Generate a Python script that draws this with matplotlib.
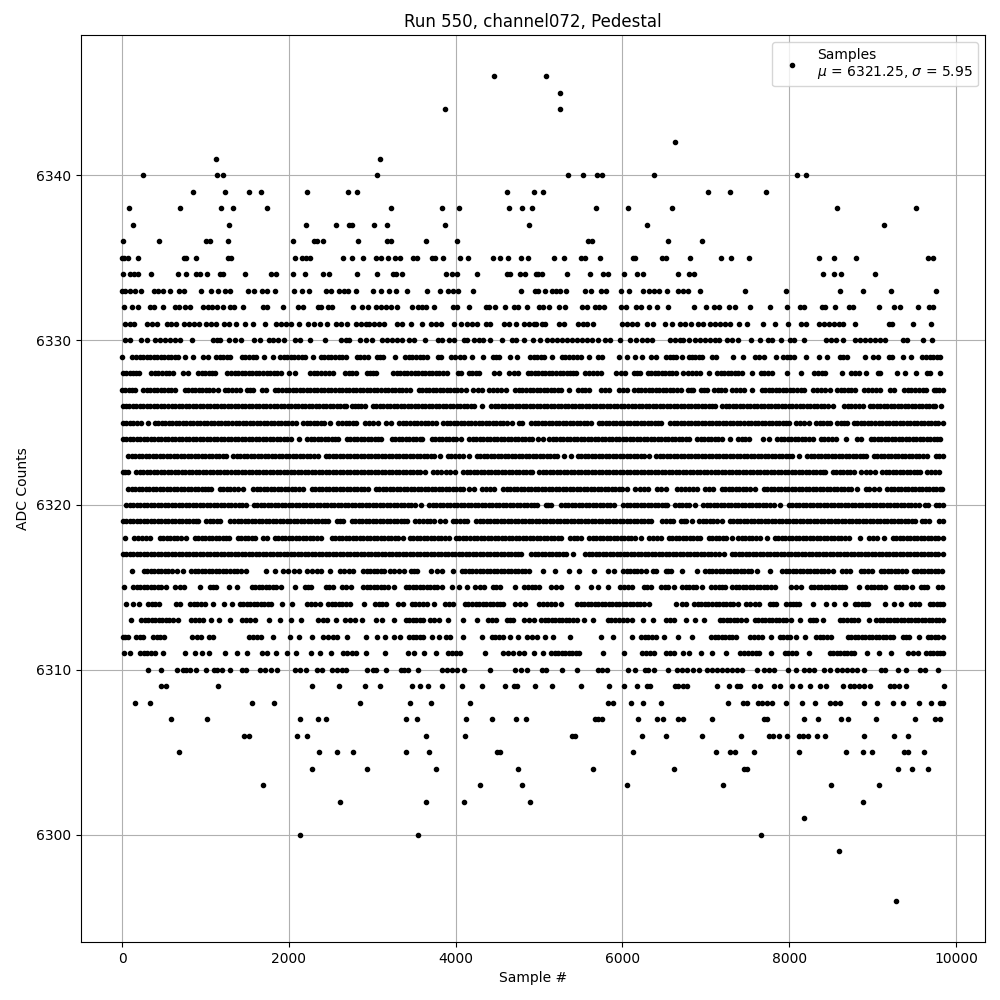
#!/usr/bin/env python3
# Pedestal scatter for run 550, channel 072.
# Sample positions, one list per ADC level.

import numpy as np
import matplotlib
matplotlib.use("Agg")
import matplotlib.pyplot as plt

TITLE = "Run 550, channel072, Pedestal"
MU = 6321.25
SIGMA = 5.95

# sparse levels
x_6346 = [4460, 5088]
x_6345 = [5256]
x_6344 = [3872, 5256]
x_6342 = [6636]
x_6341 = [1124, 3092]
x_6340 = [248, 1136, 1212, 3056, 5352, 5532, 5700, 5760, 6384, 8088, 8196]
x_6339 = [848, 1232, 1520, 1664, 2216, 2708, 2816, 4616, 4936, 5052, 7032, 7284, 7716]
x_6338 = [80, 692, 1184, 1328, 1736, 3224, 3836, 4040, 4640, 4796, 4914, 5688, 6072, 6600, 8568, 9516]
x_6337 = [128, 1280, 2204, 2564, 2720, 2760, 3020, 3176, 3872, 4884, 6300, 9132]
x_6336 = [8, 440, 1004, 1052, 1268, 2048, 2300, 2332, 2408, 2828, 3176, 3228, 3644, 4016,
          5588, 5640, 6552, 6960]
x_6335 = [0, 20, 72, 188, 748, 772, 884, 1268, 1308, 2068, 2156, 2200, 2252, 2648, 2756, 2888,
          3040, 3104, 3188, 3268, 3332, 3484, 3536, 3720, 3748, 3848, 4052, 4148, 4448, 4532,
          4628, 4784, 4868, 5184, 5304, 5504, 5552, 5736, 6128, 6152, 6480, 6528, 6816, 7176,
          7296, 7512, 8352, 8532, 8796, 9660, 9720]
x_6334 = [8, 100, 148, 188, 344, 668, 764, 884, 932, 1020, 1172, 1212, 1472, 1780, 1844, 2048,
          2192, 2408, 2480, 2816, 3056, 3248, 3288, 3356, 3884, 3960, 4016, 4256, 4616, 4652,
          4772, 4832, 4960, 4992, 5032, 5340, 5616, 5772, 5824, 6024, 6180, 6244, 6672, 6804,
          6864, 8400, 8532, 8620, 9024]
x_6333 = [0, 40, 92, 160, 232, 380, 436, 492, 572, 680, 740, 944, 1064, 1148, 1232, 1292, 1508,
          1580, 1672, 1732, 1832, 2060, 2156, 2240, 2448, 2500, 2600, 2660, 2708, 2804, 3008,
          3100, 3200, 3280, 3412, 3656, 3812, 3908, 3968, 4028, 4208, 4784, 4952, 4990, 5076,
          5152, 5204, 5252, 5328, 5556, 5628, 5744, 5804, 5988, 6076, 6252, 6324, 6384, 6444,
          6540, 6672, 6732, 6792, 6936, 7464, 7956, 8604, 8880, 9216, 9756]
x_6332 = [20, 116, 188, 332, 380, 492, 640, 680, 752, 820, 968, 1028, 1076, 1136, 1208, 1292,
          1340, 1448, 1684, 1732, 1928, 2108, 2168, 2348, 2380, 2468, 2520, 2768, 2876, 2948,
          3044, 3100, 3160, 3220, 3300, 3476, 3548, 3600, 3644, 3740, 3968, 4016, 4160, 4364,
          4400, 4472, 4592, 4700, 4748, 4852, 5000, 5052, 5120, 5240, 5308, 5512, 5572, 5672,
          5724, 5784, 5980, 6044, 6164, 6228, 6324, 6412, 6552, 6864, 7008, 7100, 7152, 7272,
          7344, 7524, 7764, 7968, 8124, 8180, 8392, 8432, 8544, 8712, 8760, 9072, 9252, 9324,
          9540, 9680, 9720]
x_6331 = [40, 92, 148, 296, 356, 416, 540, 588, 652, 740, 800, 860, 920, 1008, 1068, 1132, 1220,
          1280, 1360, 1472, 1568, 1712, 1840, 1900, 1960, 2020, 2120, 2232, 2300, 2372, 2456,
          2564, 2620, 2696, 2804, 2860, 2920, 2960, 3020, 3080, 3140, 3300, 3360, 3460, 3592,
          3700, 3760, 3820, 3980, 4064, 4140, 4200, 4252, 4364, 4412, 4580, 4640, 4720, 4820,
          4880, 4940, 4964, 5032, 5072, 5244, 5304, 5472, 5524, 5580, 5644, 6000, 6060, 6112,
          6172, 6300, 6364, 6512, 6592, 6692, 6752, 6820, 6912, 6972, 7052, 7112, 7172, 7232,
          7284, 7392, 7492, 7680, 7824, 7980, 8136, 8204, 8352, 8412, 8472, 8532, 8592, 8640,
          8784, 9192, 9236, 9480, 9696]
x_6330 = [40, 100, 224, 296, 396, 460, 520, 572, 640, 700, 840, 1092, 1140, 1172, 1288, 1348,
          1420, 1580, 1656, 1760, 1812, 1868, 1940, 2068, 2128, 2256, 2432, 2620, 2680, 2720,
          2852, 2920, 3000, 3120, 3180, 3240, 3300, 3360, 3440, 3500, 3628, 3788, 3840, 3920,
          3980, 4100, 4132, 4220, 4284, 4332, 4416, 4552, 4680, 4720, 4824, 4932, 5012, 5092,
          5152, 5212, 5272, 5332, 5392, 5452, 5512, 5572, 5632, 5712, 5792, 5852, 5972, 6092,
          6164, 6232, 6292, 6352, 6572, 6632, 6692, 6732, 6804, 6872, 6932, 6992, 7052, 7104,
          7156, 7252, 7312, 7380, 7536, 7644, 7740, 7792, 7900, 8004, 8052, 8172, 8436, 8500,
          8564, 8640, 8792, 8844, 8912, 8972, 9032, 9092, 9152, 9364, 9412, 9600, 9708]

# dense levels
x_6329 = [0, 124, 166, 210, 250, 294, 336, 378, 420, 462, 504, 546, 588, 630, 668, 752, 856, 972,
          1028, 1132, 1174, 1216, 1258, 1300, 1432, 1476, 1520, 1564, 1608, 1700, 1808, 1892, 1936,
          1978, 2022, 2066, 2108, 2152, 2196, 2288, 2380, 2424, 2466, 2510, 2554, 2598, 2642, 2688,
          2812, 2856, 2902, 2948, 3052, 3090, 3128, 3270, 3396, 3440, 3482, 3526, 3568, 3610, 3652,
          3784, 3828, 3944, 3996, 4048, 4100, 4192, 4332, 4444, 4482, 4520, 4652, 4732, 4892, 4934,
          4976, 5018, 5060, 5160, 5272, 5316, 5360, 5404, 5452, 5500, 5600, 5704, 5752, 5964, 6052,
          6146, 6240, 6344, 6400, 6524, 6566, 6608, 6640, 6720, 6796, 6836, 6876, 6916, 6952, 7076,
          7124, 7324, 7440, 7588, 7640, 7692, 7844, 7928, 7970, 8012, 8052, 8200, 8356, 8452, 8604,
          8648, 8692, 8904, 9008, 9064, 9196, 9232, 9364, 9460, 9596, 9640, 9684, 9726, 9770, 9812]
x_6328 = [5, 48, 90, 132, 170, 208, 352, 394, 436, 480, 522, 566, 608, 728, 788, 912, 954, 996,
          1038, 1078, 1116, 1264, 1306, 1348, 1392, 1434, 1476, 1520, 1562, 1604, 1646, 1690, 1732,
          1774, 1816, 1858, 1900, 2000, 2068, 2252, 2296, 2340, 2384, 2430, 2478, 2528, 2672, 2716,
          2762, 2808, 2932, 2972, 3010, 3048, 3252, 3294, 3336, 3380, 3422, 3464, 3508, 3550, 3592,
          3634, 3678, 3720, 3762, 3806, 3850, 3892, 4024, 4060, 4156, 4198, 4240, 4280, 4464, 4520,
          4644, 4696, 4748, 4864, 4906, 4948, 4990, 5032, 5076, 5118, 5160, 5202, 5246, 5288, 5330,
          5372, 5410, 5440, 5556, 5600, 5642, 5690, 5740, 5928, 5980, 6032, 6136, 6174, 6212, 6304,
          6346, 6388, 6430, 6472, 6514, 6556, 6598, 6640, 6732, 6792, 6836, 6880, 6932, 7044, 7136,
          7178, 7220, 7262, 7304, 7346, 7390, 7432, 7548, 7656, 7700, 7746, 7792, 7974, 8140, 8296,
          8342, 8388, 8432, 8630, 8744, 8788, 8832, 8924, 9068, 9092, 9290, 9392, 9524, 9656, 9692,
          9804]
x_6327 = [0, 40, 78, 118, 156, 252, 294, 336, 378, 420, 464, 506, 548, 592, 636, 752, 794, 836,
          878, 922, 964, 1006, 1048, 1092, 1148, 1232, 1276, 1320, 1364, 1408, 1492, 1530, 1568,
          1672, 1728, 1832, 1874, 1916, 1960, 2002, 2044, 2086, 2128, 2172, 2214, 2256, 2300, 2342,
          2384, 2426, 2468, 2510, 2552, 2596, 2638, 2680, 2722, 2766, 2808, 2850, 2892, 2936, 2978,
          3020, 3062, 3106, 3148, 3190, 3232, 3276, 3318, 3360, 3404, 3452, 3556, 3598, 3640, 3682,
          3726, 3768, 3810, 3852, 3896, 3938, 3980, 4022, 4066, 4120, 4204, 4262, 4320, 4404, 4452,
          4500, 4548, 4600, 4716, 4758, 4800, 4844, 4886, 4928, 4970, 5014, 5056, 5098, 5140, 5184,
          5226, 5260, 5358, 5464, 5510, 5556, 5604, 5744, 5792, 5840, 5956, 6004, 6052, 6144, 6186,
          6228, 6272, 6314, 6356, 6398, 6442, 6484, 6526, 6568, 6612, 6654, 6700, 6788, 6820, 6852,
          6948, 6980, 7012, 7096, 7140, 7186, 7232, 7316, 7360, 7406, 7452, 7556, 7668, 7710, 7752,
          7796, 7838, 7880, 7922, 7966, 8008, 8050, 8092, 8136, 8172, 8284, 8334, 8384, 8434, 8484,
          8576, 8618, 8660, 8702, 8744, 8784, 8896, 8944, 8992, 9040, 9084, 9204, 9252, 9376, 9420,
          9466, 9510, 9556, 9600, 9644, 9736, 9764, 9792, 9848]
x_6326 = [5, 46, 88, 130, 172, 214, 256, 298, 340, 382, 424, 466, 508, 552, 594, 636, 678, 720,
          762, 804, 846, 888, 930, 972, 1014, 1056, 1098, 1140, 1184, 1226, 1268, 1310, 1352, 1394,
          1436, 1478, 1520, 1562, 1604, 1646, 1688, 1730, 1772, 1816, 1858, 1900, 1942, 1984, 2026,
          2068, 2110, 2152, 2194, 2236, 2278, 2320, 2362, 2404, 2448, 2490, 2532, 2574, 2616, 2658,
          2690, 2752, 2792, 2832, 2870, 2908, 3004, 3046, 3088, 3130, 3172, 3214, 3256, 3298, 3340,
          3382, 3424, 3466, 3508, 3550, 3592, 3634, 3678, 3720, 3762, 3804, 3846, 3888, 3930, 3972,
          4014, 4056, 4098, 4140, 4182, 4220, 4316, 4424, 4466, 4508, 4550, 4592, 4634, 4676, 4718,
          4760, 4802, 4846, 4888, 4930, 4972, 5014, 5056, 5098, 5140, 5182, 5224, 5266, 5308, 5350,
          5392, 5434, 5478, 5520, 5562, 5604, 5646, 5688, 5730, 5772, 5814, 5856, 5898, 5940, 5982,
          6024, 6066, 6110, 6152, 6194, 6236, 6278, 6320, 6362, 6404, 6446, 6488, 6530, 6572, 6614,
          6656, 6698, 6742, 6784, 6826, 6868, 6910, 6952, 6994, 7036, 7078, 7112, 7196, 7238, 7280,
          7322, 7364, 7406, 7450, 7492, 7534, 7576, 7618, 7660, 7702, 7744, 7786, 7828, 7870, 7912,
          7954, 7996, 8038, 8082, 8124, 8166, 8208, 8250, 8292, 8334, 8376, 8418, 8460, 8524, 8656,
          8700, 8744, 8790, 8836, 8884, 8968, 9010, 9052, 9094, 9136, 9178, 9220, 9262, 9304, 9346,
          9388, 9430, 9472, 9514, 9556, 9598, 9640, 9682, 9724, 9752, 9824]
x_6325 = [5, 48, 92, 134, 180, 228, 308, 392, 434, 476, 518, 560, 602, 644, 686, 730, 772, 814,
          856, 898, 940, 982, 1024, 1066, 1108, 1150, 1192, 1234, 1276, 1318, 1360, 1404, 1446,
          1488, 1530, 1572, 1614, 1656, 1698, 1740, 1782, 1824, 1866, 1908, 1950, 1992, 2036, 2088,
          2172, 2214, 2256, 2298, 2340, 2382, 2424, 2488, 2592, 2636, 2680, 2724, 2766, 2808, 2912,
          2960, 3012, 3068, 3164, 3228, 3320, 3364, 3408, 3452, 3496, 3540, 3584, 3628, 3672, 3716,
          3760, 3852, 3894, 3936, 3978, 4020, 4064, 4106, 4148, 4190, 4232, 4274, 4316, 4358, 4400,
          4442, 4484, 4528, 4570, 4612, 4680, 4764, 4800, 4904, 4946, 4988, 5030, 5072, 5114, 5156,
          5198, 5240, 5284, 5326, 5368, 5410, 5452, 5494, 5536, 5578, 5620, 5716, 5758, 5800, 5842,
          5884, 5926, 5968, 6010, 6054, 6096, 6138, 6180, 6222, 6264, 6306, 6348, 6390, 6432, 6460,
          6572, 6614, 6656, 6698, 6740, 6784, 6826, 6868, 6910, 6952, 6994, 7036, 7078, 7120, 7162,
          7204, 7246, 7288, 7330, 7372, 7414, 7458, 7500, 7542, 7584, 7626, 7668, 7710, 7752, 7794,
          7836, 7878, 7920, 7962, 8000, 8084, 8130, 8180, 8232, 8324, 8366, 8408, 8450, 8492, 8576,
          8616, 8654, 8692, 8776, 8818, 8860, 8902, 8944, 8986, 9030, 9072, 9114, 9156, 9198, 9240,
          9282, 9324, 9366, 9408, 9450, 9492, 9534, 9576, 9618, 9660, 9702, 9744, 9788, 9850]
x_6324 = [5, 47, 89, 131, 173, 215, 257, 299, 341, 383, 425, 467, 509, 551, 593, 635, 677, 719,
          761, 803, 845, 887, 929, 971, 1013, 1055, 1097, 1139, 1181, 1223, 1265, 1307, 1349, 1391,
          1433, 1475, 1517, 1559, 1601, 1643, 1685, 1727, 1769, 1811, 1853, 1895, 1937, 1979, 2028,
          2120, 2220, 2262, 2304, 2346, 2388, 2430, 2472, 2514, 2556, 2588, 2692, 2734, 2776, 2818,
          2860, 2902, 2944, 2986, 3028, 3070, 3108, 3232, 3274, 3316, 3358, 3400, 3442, 3484, 3526,
          3568, 3600, 3716, 3758, 3800, 3842, 3884, 3926, 3968, 4010, 4060, 4164, 4206, 4248, 4290,
          4332, 4374, 4416, 4458, 4500, 4542, 4584, 4626, 4668, 4710, 4752, 4794, 4836, 4878, 4920,
          4992, 5044, 5124, 5166, 5208, 5250, 5292, 5334, 5376, 5418, 5460, 5502, 5544, 5586, 5628,
          5670, 5712, 5754, 5796, 5838, 5880, 5922, 5964, 6006, 6048, 6090, 6132, 6174, 6216, 6258,
          6300, 6342, 6384, 6426, 6468, 6510, 6552, 6594, 6636, 6678, 6720, 6762, 6804, 6896, 6938,
          6980, 7022, 7064, 7106, 7148, 7192, 7288, 7388, 7430, 7472, 7512, 7688, 7752, 7856, 7898,
          7940, 7982, 8024, 8066, 8108, 8150, 8192, 8234, 8284, 8376, 8420, 8464, 8510, 8564, 8684,
          8816, 8860, 8976, 9018, 9060, 9102, 9144, 9186, 9228, 9270, 9312, 9354, 9396, 9438, 9480,
          9522, 9564, 9606, 9648, 9690, 9732, 9774, 9812]
x_6323 = [72, 114, 156, 198, 240, 282, 324, 366, 408, 450, 492, 534, 576, 618, 660, 702, 744, 786,
          828, 870, 912, 954, 996, 1038, 1080, 1122, 1164, 1206, 1248, 1332, 1374, 1416, 1458,
          1500, 1542, 1584, 1626, 1668, 1710, 1752, 1794, 1836, 1878, 1920, 1962, 2004, 2046, 2088,
          2130, 2172, 2214, 2256, 2298, 2348, 2444, 2486, 2528, 2570, 2612, 2654, 2696, 2738, 2780,
          2822, 2864, 2906, 2948, 2990, 3032, 3074, 3116, 3158, 3200, 3242, 3284, 3326, 3368, 3410,
          3452, 3494, 3536, 3578, 3620, 3662, 3704, 3746, 3812, 3904, 3950, 3996, 4046, 4092, 4164,
          4252, 4294, 4336, 4378, 4420, 4462, 4504, 4546, 4588, 4630, 4672, 4714, 4756, 4798, 4840,
          4882, 4924, 4966, 5008, 5050, 5092, 5134, 5176, 5220, 5304, 5384, 5464, 5506, 5548, 5590,
          5632, 5674, 5716, 5758, 5800, 5842, 5884, 5926, 5968, 6010, 6052, 6094, 6136, 6178, 6220,
          6262, 6320, 6404, 6446, 6488, 6530, 6572, 6614, 6656, 6698, 6740, 6782, 6824, 6866, 6908,
          6950, 6992, 7034, 7076, 7118, 7160, 7202, 7244, 7286, 7328, 7370, 7412, 7454, 7496, 7538,
          7580, 7622, 7664, 7706, 7748, 7790, 7832, 7874, 7916, 7958, 8000, 8032, 8116, 8216, 8258,
          8300, 8342, 8384, 8426, 8468, 8510, 8552, 8594, 8636, 8678, 8720, 8762, 8804, 8846, 8888,
          8924, 9016, 9058, 9100, 9142, 9184, 9226, 9268, 9310, 9352, 9394, 9436, 9478, 9520, 9562,
          9604, 9652, 9756, 9800, 9850]
x_6322 = [5, 36, 68, 172, 214, 256, 298, 340, 382, 424, 466, 508, 550, 592, 634, 676, 718, 760,
          802, 844, 886, 928, 970, 1012, 1054, 1096, 1138, 1180, 1222, 1264, 1306, 1348, 1390,
          1432, 1474, 1516, 1558, 1600, 1642, 1684, 1726, 1768, 1810, 1852, 1894, 1936, 1978, 2020,
          2062, 2104, 2146, 2188, 2230, 2272, 2314, 2356, 2398, 2440, 2482, 2524, 2566, 2608, 2650,
          2692, 2734, 2776, 2818, 2860, 2902, 2944, 2986, 3028, 3070, 3112, 3154, 3196, 3238, 3280,
          3322, 3364, 3406, 3448, 3490, 3532, 3574, 3628, 3732, 3780, 3830, 3880, 3936, 3992, 4092,
          4134, 4176, 4218, 4260, 4302, 4344, 4386, 4428, 4470, 4512, 4554, 4596, 4638, 4680, 4722,
          4764, 4806, 4848, 4890, 4920, 5004, 5046, 5088, 5130, 5172, 5214, 5256, 5298, 5340, 5382,
          5424, 5466, 5508, 5550, 5592, 5634, 5676, 5718, 5760, 5802, 5844, 5886, 5928, 5970, 6012,
          6054, 6096, 6138, 6180, 6222, 6264, 6306, 6348, 6390, 6432, 6474, 6516, 6558, 6600, 6642,
          6684, 6726, 6768, 6810, 6852, 6894, 6936, 6978, 7020, 7062, 7104, 7146, 7188, 7230, 7272,
          7314, 7356, 7398, 7440, 7482, 7524, 7566, 7608, 7650, 7692, 7734, 7776, 7818, 7860, 7902,
          7944, 7986, 8028, 8070, 8112, 8154, 8196, 8238, 8280, 8322, 8364, 8406, 8432, 8524, 8566,
          8608, 8650, 8692, 8734, 8772, 8864, 8916, 8970, 9024, 9116, 9158, 9200, 9242, 9284, 9326,
          9368, 9410, 9452, 9494, 9530, 9564, 9656, 9702, 9748, 9792]
x_6321 = [72, 114, 156, 198, 240, 282, 324, 366, 408, 450, 492, 534, 576, 618, 660, 702, 744, 786,
          828, 870, 912, 954, 996, 1032, 1068, 1172, 1214, 1256, 1298, 1340, 1392, 1448, 1572,
          1614, 1656, 1698, 1740, 1782, 1824, 1866, 1908, 1950, 1992, 2034, 2076, 2118, 2168, 2272,
          2314, 2356, 2398, 2440, 2482, 2524, 2566, 2608, 2650, 2692, 2734, 2776, 2818, 2860, 2902,
          2948, 3044, 3086, 3128, 3170, 3212, 3254, 3296, 3338, 3380, 3422, 3464, 3506, 3548, 3590,
          3632, 3674, 3716, 3758, 3800, 3842, 3884, 3926, 3968, 4010, 4052, 4094, 4160, 4224, 4316,
          4364, 4412, 4460, 4572, 4614, 4656, 4698, 4740, 4782, 4824, 4866, 4908, 4950, 4992, 5034,
          5076, 5118, 5160, 5202, 5244, 5286, 5328, 5370, 5412, 5454, 5496, 5538, 5580, 5622, 5664,
          5706, 5748, 5790, 5832, 5874, 5916, 5958, 6000, 6052, 6156, 6208, 6260, 6312, 6416, 6468,
          6520, 6652, 6700, 6750, 6800, 6846, 6892, 6988, 7040, 7092, 7188, 7230, 7272, 7314, 7356,
          7398, 7440, 7482, 7524, 7592, 7696, 7738, 7780, 7822, 7864, 7906, 7948, 7990, 8032, 8074,
          8116, 8158, 8200, 8242, 8284, 8326, 8368, 8410, 8452, 8494, 8536, 8578, 8620, 8662, 8704,
          8746, 8812, 8916, 8960, 9016, 9072, 9176, 9218, 9260, 9302, 9344, 9386, 9428, 9470, 9512,
          9554, 9596, 9638, 9680, 9722, 9764, 9806, 9832]
x_6320 = [52, 94, 136, 178, 220, 262, 304, 346, 388, 430, 472, 514, 556, 598, 640, 682, 724, 766,
          808, 850, 892, 934, 976, 1018, 1060, 1102, 1144, 1186, 1228, 1270, 1312, 1354, 1396,
          1438, 1488, 1580, 1622, 1664, 1706, 1748, 1790, 1832, 1874, 1916, 1958, 2000, 2042, 2084,
          2126, 2168, 2210, 2252, 2294, 2336, 2378, 2420, 2462, 2504, 2546, 2588, 2630, 2672, 2714,
          2756, 2798, 2840, 2882, 2924, 2966, 3008, 3050, 3092, 3134, 3176, 3218, 3260, 3302, 3344,
          3386, 3428, 3470, 3512, 3580, 3684, 3726, 3768, 3810, 3852, 3894, 3936, 3978, 4020, 4062,
          4104, 4146, 4188, 4230, 4272, 4314, 4356, 4398, 4440, 4482, 4524, 4566, 4608, 4650, 4692,
          4734, 4776, 4818, 4860, 4902, 4944, 4980, 5084, 5112, 5140, 5264, 5306, 5348, 5390, 5432,
          5474, 5516, 5558, 5600, 5642, 5684, 5726, 5768, 5810, 5852, 5900, 6012, 6054, 6096, 6138,
          6180, 6222, 6264, 6306, 6348, 6390, 6432, 6474, 6516, 6540, 6636, 6678, 6720, 6762, 6804,
          6872, 6968, 7010, 7052, 7094, 7136, 7178, 7220, 7262, 7304, 7346, 7388, 7430, 7472, 7514,
          7556, 7598, 7640, 7682, 7724, 7766, 7812, 7884, 7996, 8038, 8080, 8122, 8164, 8206, 8248,
          8290, 8332, 8374, 8416, 8458, 8500, 8542, 8584, 8626, 8668, 8710, 8752, 8794, 8836, 8878,
          8920, 8962, 9004, 9046, 9088, 9130, 9172, 9214, 9256, 9298, 9340, 9382, 9424, 9466, 9508,
          9552, 9624, 9664, 9756, 9800, 9850]
x_6319 = [5, 47, 89, 131, 173, 215, 257, 299, 341, 383, 425, 467, 509, 551, 593, 635, 677, 719,
          761, 803, 845, 887, 908, 1012, 1054, 1096, 1138, 1180, 1300, 1342, 1384, 1426, 1468,
          1510, 1552, 1594, 1636, 1678, 1720, 1762, 1804, 1846, 1888, 1930, 1972, 2014, 2056, 2098,
          2140, 2182, 2224, 2266, 2308, 2350, 2392, 2434, 2468, 2580, 2616, 2648, 2752, 2794, 2836,
          2878, 2920, 2962, 3004, 3046, 3088, 3130, 3172, 3214, 3256, 3298, 3340, 3382, 3420, 3516,
          3560, 3606, 3652, 3696, 3740, 3812, 3872, 3964, 4008, 4052, 4096, 4140, 4244, 4286, 4328,
          4370, 4412, 4454, 4496, 4538, 4580, 4622, 4664, 4706, 4748, 4790, 4832, 4874, 4916, 4958,
          5000, 5042, 5084, 5126, 5168, 5210, 5252, 5294, 5336, 5378, 5420, 5462, 5504, 5546, 5588,
          5630, 5672, 5714, 5756, 5798, 5840, 5882, 5924, 5966, 6008, 6050, 6092, 6134, 6176, 6218,
          6260, 6302, 6340, 6476, 6520, 6566, 6612, 6704, 6734, 6764, 6836, 6924, 6966, 7008, 7050,
          7092, 7134, 7192, 7284, 7326, 7368, 7410, 7452, 7494, 7536, 7578, 7620, 7662, 7704, 7746,
          7788, 7830, 7872, 7914, 7956, 7998, 8040, 8082, 8124, 8166, 8208, 8250, 8292, 8334, 8376,
          8418, 8460, 8502, 8544, 8586, 8628, 8670, 8712, 8754, 8796, 8838, 8880, 8922, 8964, 9006,
          9048, 9090, 9132, 9174, 9216, 9258, 9300, 9342, 9384, 9426, 9468, 9512, 9596, 9634, 9672,
          9796, 9844]
x_6318 = [32, 140, 188, 240, 290, 340, 452, 494, 536, 578, 620, 662, 704, 768, 872, 914, 956, 998,
          1040, 1082, 1124, 1166, 1208, 1250, 1288, 1384, 1426, 1468, 1510, 1552, 1588, 1684, 1740,
          1832, 1874, 1916, 1958, 2000, 2042, 2084, 2126, 2168, 2210, 2252, 2294, 2336, 2388, 2512,
          2554, 2596, 2638, 2680, 2722, 2764, 2806, 2848, 2890, 2932, 2974, 3016, 3058, 3100, 3142,
          3184, 3226, 3268, 3310, 3372, 3452, 3494, 3536, 3578, 3620, 3662, 3704, 3746, 3788, 3830,
          3872, 3920, 4004, 4046, 4088, 4130, 4172, 4214, 4256, 4298, 4340, 4382, 4424, 4466, 4508,
          4550, 4592, 4634, 4676, 4718, 4760, 4802, 4844, 4886, 4928, 4970, 5012, 5054, 5096, 5138,
          5180, 5222, 5268, 5372, 5414, 5456, 5500, 5604, 5646, 5688, 5730, 5772, 5814, 5856, 5898,
          5940, 5982, 6024, 6066, 6108, 6150, 6220, 6324, 6370, 6416, 6460, 6556, 6598, 6640, 6682,
          6724, 6766, 6808, 6850, 6892, 6932, 7036, 7078, 7120, 7162, 7204, 7246, 7312, 7388, 7430,
          7472, 7514, 7556, 7598, 7652, 7732, 7828, 7870, 7912, 7954, 7996, 8038, 8080, 8122, 8164,
          8206, 8248, 8290, 8332, 8374, 8416, 8458, 8500, 8542, 8584, 8626, 8668, 8712, 8844, 8956,
          9004, 9052, 9142, 9244, 9286, 9328, 9370, 9412, 9454, 9496, 9538, 9580, 9622, 9664, 9706,
          9748, 9790, 9844]
x_6317 = [5, 47, 89, 131, 173, 215, 257, 299, 341, 383, 425, 467, 509, 551, 593, 635, 677, 719,
          761, 803, 845, 887, 929, 971, 1013, 1055, 1097, 1139, 1181, 1223, 1265, 1307, 1349, 1391,
          1433, 1475, 1517, 1559, 1601, 1643, 1685, 1727, 1769, 1811, 1853, 1895, 1937, 1979, 2021,
          2063, 2105, 2147, 2189, 2231, 2273, 2315, 2357, 2399, 2441, 2483, 2525, 2567, 2609, 2651,
          2693, 2735, 2777, 2819, 2861, 2903, 2945, 2987, 3029, 3071, 3113, 3155, 3197, 3239, 3281,
          3323, 3365, 3407, 3449, 3491, 3533, 3575, 3617, 3659, 3701, 3743, 3785, 3827, 3869, 3911,
          3953, 3995, 4037, 4079, 4121, 4163, 4205, 4247, 4289, 4331, 4373, 4415, 4457, 4499, 4541,
          4583, 4625, 4667, 4709, 4751, 4780, 4904, 4946, 4988, 5030, 5072, 5114, 5156, 5198, 5240,
          5282, 5320, 5404, 5556, 5598, 5640, 5682, 5724, 5766, 5808, 5850, 5892, 5934, 5976, 6018,
          6060, 6102, 6144, 6186, 6228, 6270, 6312, 6354, 6396, 6438, 6480, 6522, 6564, 6606, 6648,
          6690, 6732, 6774, 6816, 6858, 6900, 6942, 6984, 7026, 7068, 7110, 7152, 7220, 7308, 7350,
          7392, 7434, 7476, 7518, 7560, 7602, 7644, 7686, 7728, 7770, 7812, 7854, 7896, 7938, 7980,
          8022, 8064, 8106, 8148, 8190, 8232, 8274, 8316, 8358, 8400, 8442, 8484, 8526, 8568, 8610,
          8652, 8694, 8736, 8778, 8820, 8862, 8904, 8946, 8988, 9030, 9072, 9114, 9156, 9198, 9240,
          9282, 9324, 9366, 9408, 9450, 9492, 9534, 9576, 9618, 9660, 9702, 9744, 9786, 9844]
x_6316 = [120, 260, 302, 344, 386, 428, 470, 512, 554, 596, 660, 732, 832, 874, 916, 958, 1000,
          1042, 1084, 1126, 1168, 1210, 1252, 1294, 1336, 1378, 1420, 1488, 1720, 1828, 1932, 1994,
          2056, 2120, 2220, 2276, 2332, 2388, 2492, 2612, 2664, 2716, 2768, 2892, 2934, 2976, 3018,
          3060, 3102, 3144, 3208, 3260, 3324, 3380, 3464, 3500, 3540, 3704, 3772, 3840, 3972, 4076,
          4118, 4160, 4202, 4244, 4286, 4328, 4370, 4412, 4454, 4496, 4538, 4580, 4622, 4664, 4706,
          4748, 4790, 4832, 4880, 5044, 5194, 5354, 5476, 5656, 5828, 5904, 6012, 6054, 6096, 6138,
          6180, 6222, 6280, 6364, 6400, 6524, 6552, 6580, 6720, 6892, 6996, 7038, 7080, 7122, 7164,
          7206, 7248, 7290, 7332, 7374, 7416, 7458, 7500, 7542, 7612, 7772, 7916, 7958, 8000, 8042,
          8084, 8126, 8168, 8210, 8252, 8294, 8336, 8378, 8420, 8462, 8524, 8628, 8676, 8724, 8856,
          8900, 8946, 8992, 9096, 9138, 9180, 9222, 9264, 9306, 9348, 9404, 9496, 9538, 9580, 9622,
          9664, 9706, 9748, 9790, 9832]
x_6315 = [20, 132, 174, 216, 258, 300, 342, 384, 426, 468, 528, 632, 690, 748, 940, 1052, 1090,
          1128, 1280, 1372, 1552, 1594, 1636, 1678, 1720, 1762, 1804, 1846, 1900, 2068, 2192, 2230,
          2268, 2444, 2486, 2528, 2632, 2690, 2748, 2892, 2934, 2976, 3018, 3060, 3102, 3144, 3186,
          3260, 3404, 3446, 3488, 3530, 3572, 3614, 3656, 3698, 3740, 3782, 3840, 3952, 4044, 4136,
          4236, 4288, 4340, 4444, 4488, 4532, 4716, 4824, 4868, 4912, 4956, 5000, 5144, 5202, 5260,
          5452, 5622, 5712, 5824, 5976, 6020, 6066, 6112, 6256, 6298, 6340, 6464, 6506, 6548, 6620,
          6716, 6758, 6800, 6842, 6884, 6952, 7068, 7110, 7152, 7194, 7232, 7316, 7358, 7400, 7442,
          7484, 7526, 7568, 7610, 7652, 7694, 7736, 7778, 7832, 8016, 8078, 8140, 8256, 8298, 8340,
          8382, 8424, 8466, 8508, 8550, 8592, 8634, 8672, 8840, 8936, 8978, 9020, 9062, 9104, 9152,
          9276, 9318, 9360, 9402, 9472, 9576, 9614, 9652, 9784, 9832]
x_6314 = [44, 128, 200, 312, 356, 400, 448, 652, 700, 812, 858, 904, 950, 996, 1088, 1224, 1320,
          1412, 1454, 1496, 1538, 1580, 1622, 1664, 1706, 1748, 1788, 1914, 2040, 2212, 2264, 2316,
          2368, 2472, 2514, 2556, 2598, 2640, 2682, 2728, 2900, 3032, 3076, 3120, 3168, 3312, 3368,
          3472, 3518, 3564, 3610, 3660, 3740, 3872, 3920, 3968, 4112, 4154, 4196, 4238, 4280, 4322,
          4364, 4406, 4448, 4490, 4532, 4568, 4712, 4770, 4828, 5004, 5050, 5096, 5142, 5188, 5260,
          5456, 5498, 5540, 5582, 5624, 5666, 5708, 5750, 5792, 5834, 5876, 5918, 5960, 6002, 6044,
          6086, 6128, 6170, 6212, 6254, 6320, 6644, 6712, 6764, 6864, 6906, 6948, 6990, 7032, 7074,
          7116, 7158, 7200, 7242, 7284, 7326, 7380, 7484, 7530, 7584, 7640, 7764, 7802, 7840, 7964,
          8004, 8044, 8084, 8120, 8284, 8444, 8532, 8672, 8784, 8826, 8868, 8948, 8906, 9152, 9252,
          9340, 9464, 9512, 9560, 9684, 9726, 9768, 9810, 9850]
x_6313 = [104, 232, 274, 316, 358, 400, 442, 484, 526, 568, 612, 668, 832, 876, 922, 968, 1064,
          1164, 1298, 1432, 1484, 1536, 1588, 1760, 1888, 2024, 2148, 2352, 2406, 2460, 2560, 2672,
          2730, 2788, 2880, 3040, 3120, 3260, 3404, 3446, 3488, 3530, 3572, 3608, 3692, 3744, 3796,
          3908, 4088, 4256, 4392, 4440, 4488, 4620, 4654, 4688, 4820, 4880, 4940, 5024, 5066, 5108,
          5150, 5192, 5234, 5276, 5318, 5360, 5402, 5460, 5544, 5652, 5824, 5868, 5914, 5960, 6006,
          6052, 6120, 6252, 6368, 6524, 6572, 6620, 6764, 6872, 6982, 7164, 7206, 7248, 7290, 7332,
          7374, 7416, 7480, 7584, 7626, 7668, 7710, 7752, 7794, 7836, 7878, 7920, 7962, 8020, 8124,
          8244, 8282, 8320, 8404, 8604, 8648, 8692, 8736, 8780, 8820, 8952, 9044, 9086, 9128, 9170,
          9212, 9254, 9296, 9338, 9380, 9422, 9464, 9506, 9548, 9590, 9632, 9674, 9716, 9758, 9800,
          9840]
x_6312 = [5, 36, 68, 172, 210, 248, 372, 414, 458, 500, 844, 896, 948, 1040, 1092, 1520, 1568,
          1616, 1668, 1810, 2012, 2120, 2272, 2412, 2468, 2524, 2580, 2692, 2924, 3052, 3152, 3260,
          3332, 3444, 3486, 3528, 3570, 3608, 3720, 3800, 3880, 3932, 4088, 4312, 4432, 4476, 4522,
          4568, 4648, 4748, 4860, 4920, 4980, 5072, 5172, 5376, 5742, 5884, 6112, 6224, 6266, 6308,
          6350, 6400, 6500, 6664, 6840, 7064, 7106, 7148, 7190, 7232, 7274, 7316, 7360, 7524, 7572,
          7620, 7668, 7780, 7884, 7926, 7968, 8010, 8080, 8192, 8324, 8366, 8408, 8450, 8500, 8704,
          8746, 8788, 8830, 8872, 8914, 8956, 8998, 9040, 9082, 9124, 9166, 9208, 9240, 9364, 9402,
          9440, 9552, 9664, 9706, 9748, 9790, 9840]
x_6311 = [28, 92, 212, 258, 304, 350, 396, 492, 750, 872, 960, 1040, 1240, 1372, 1492, 1672, 1740,
          1850, 1980, 2088, 2270, 2372, 2506, 2644, 2698, 2752, 2808, 2924, 3152, 3428, 3500, 3620,
          3770, 3912, 3958, 4004, 4048, 4356, 4564, 4626, 4688, 4760, 4820, 4940, 5044, 5144, 5186,
          5228, 5270, 5312, 5354, 5396, 5438, 5480, 5772, 6018, 6236, 6284, 6332, 6380, 6524, 6572,
          6620, 6724, 6800, 6940, 7072, 7246, 7412, 7458, 7504, 7550, 7596, 7640, 7776, 7944, 7988,
          8034, 8080, 8232, 8484, 8526, 8568, 8610, 8652, 8694, 8736, 8780, 8928, 9082, 9226, 9424,
          9482, 9540, 9644, 9686, 9728, 9770, 9812, 9840]

# lower tail
x_6310 = [308, 464, 656, 732, 772, 812, 888, 1004, 1100, 1140, 1196, 1292, 1436, 1488, 1652,
          1708, 1788, 1860, 2072, 2132, 2204, 2340, 2400, 2520, 2580, 2640, 2688, 2936, 3008,
          3048, 3164, 3344, 3380, 3428, 3548, 3836, 3900, 3960, 4020, 4100, 4412, 4716, 4780,
          4860, 5032, 5084, 5280, 5460, 5712, 5760, 5812, 6072, 6152, 6272, 6312, 6384, 6552,
          6652, 6712, 6772, 6852, 6920, 7012, 7072, 7132, 7192, 7252, 7312, 7372, 7432, 7608,
          7692, 7752, 7812, 7980, 8080, 8172, 8232, 8292, 8412, 8492, 8572, 8632, 8692, 8752,
          8812, 8900, 9100, 9152, 9304, 9400, 9572, 9632, 9780]
x_6309 = [464, 524, 1148, 2276, 2600, 2912, 3092, 3476, 3572, 3668, 3836, 4076, 4316, 4592, 4700,
          4740, 4948, 5160, 5508, 5836, 6024, 6180, 6292, 6332, 6632, 6672, 6732, 6780, 7128,
          7272, 7372, 7412, 7572, 7644, 7812, 7892, 8028, 8124, 8244, 8372, 8444, 8640, 8732,
          8780, 8832, 8892, 8972, 9204, 9252, 9316, 9404, 9855]
x_6308 = [152, 332, 1556, 1820, 2852, 3452, 3704, 4172, 5832, 5884, 6108, 6252, 6468, 7260, 7440,
          7492, 7620, 7672, 7732, 7792, 7956, 8148, 8304, 8492, 8552, 8604, 8892, 9048, 9240,
          9360, 9552, 9696, 9804, 9845]
x_6307 = [584, 1016, 2132, 2348, 2444, 3404, 3536, 4124, 4436, 4724, 4844, 5672, 5712, 5756, 6192,
          6420, 6492, 6672, 6724, 7080, 7700, 7732, 8172, 8340, 8624, 8700, 9036, 9504, 9752,
          9804]
x_6306 = [1460, 1520, 2096, 2216, 3644, 4112, 5400, 5432, 6240, 6528, 6960, 7416, 7752, 7804,
          7872, 7968, 8112, 8164, 8220, 8328, 8428, 8892, 9252, 9420]
x_6305 = [680, 2360, 2576, 2768, 3404, 3680, 4492, 4532, 6132, 7116, 7284, 7344, 7572, 8112,
          8676, 8880, 8988, 9380, 9428, 9612]
x_6304 = [2276, 2936, 3764, 4748, 5652, 6624, 7452, 7492, 9300, 9468, 9660]
x_6303 = [1688, 4292, 4796, 6060, 7200, 8496, 9072]
x_6302 = [2612, 3644, 4100, 4892, 8880]
x_6301 = [8172]
x_6300 = [2132, 3548, 7656]
x_6299 = [8592]
x_6296 = [9276]

levels = [6346, 6345, 6344, 6342, 6341, 6340, 6339, 6338, 6337, 6336, 6335, 6334, 6333, 6332,
          6331, 6330, 6329, 6328, 6327, 6326, 6325, 6324, 6323, 6322, 6321, 6320, 6319, 6318,
          6317, 6316, 6315, 6314, 6313, 6312, 6311, 6310, 6309, 6308, 6307, 6306, 6305, 6304,
          6303, 6302, 6301, 6300, 6299, 6296]
rows = [x_6346, x_6345, x_6344, x_6342, x_6341, x_6340, x_6339, x_6338, x_6337, x_6336, x_6335,
        x_6334, x_6333, x_6332, x_6331, x_6330, x_6329, x_6328, x_6327, x_6326, x_6325, x_6324,
        x_6323, x_6322, x_6321, x_6320, x_6319, x_6318, x_6317, x_6316, x_6315, x_6314, x_6313,
        x_6312, x_6311, x_6310, x_6309, x_6308, x_6307, x_6306, x_6305, x_6304, x_6303, x_6302,
        x_6301, x_6300, x_6299, x_6296]

xs = np.concatenate([np.array(r, dtype=float) for r in rows])
ys = np.concatenate([np.full(len(r), lev, dtype=float) for r, lev in zip(rows, levels)])

label = "Samples\n" + rf"$\mu$ = {MU:.2f}, $\sigma$ = {SIGMA:.2f}"

fig, ax = plt.subplots(figsize=(10, 10))
ax.plot(xs, ys, "k.", label=label)
ax.set_title(TITLE)
ax.set_xlabel("Sample #")
ax.set_ylabel("ADC Counts")
ax.grid(True)
ax.legend(loc="upper right")
fig.subplots_adjust(left=0.081, right=0.985, top=0.965, bottom=0.058)
fig.savefig("out.png", dpi=100)
plt.close(fig)
